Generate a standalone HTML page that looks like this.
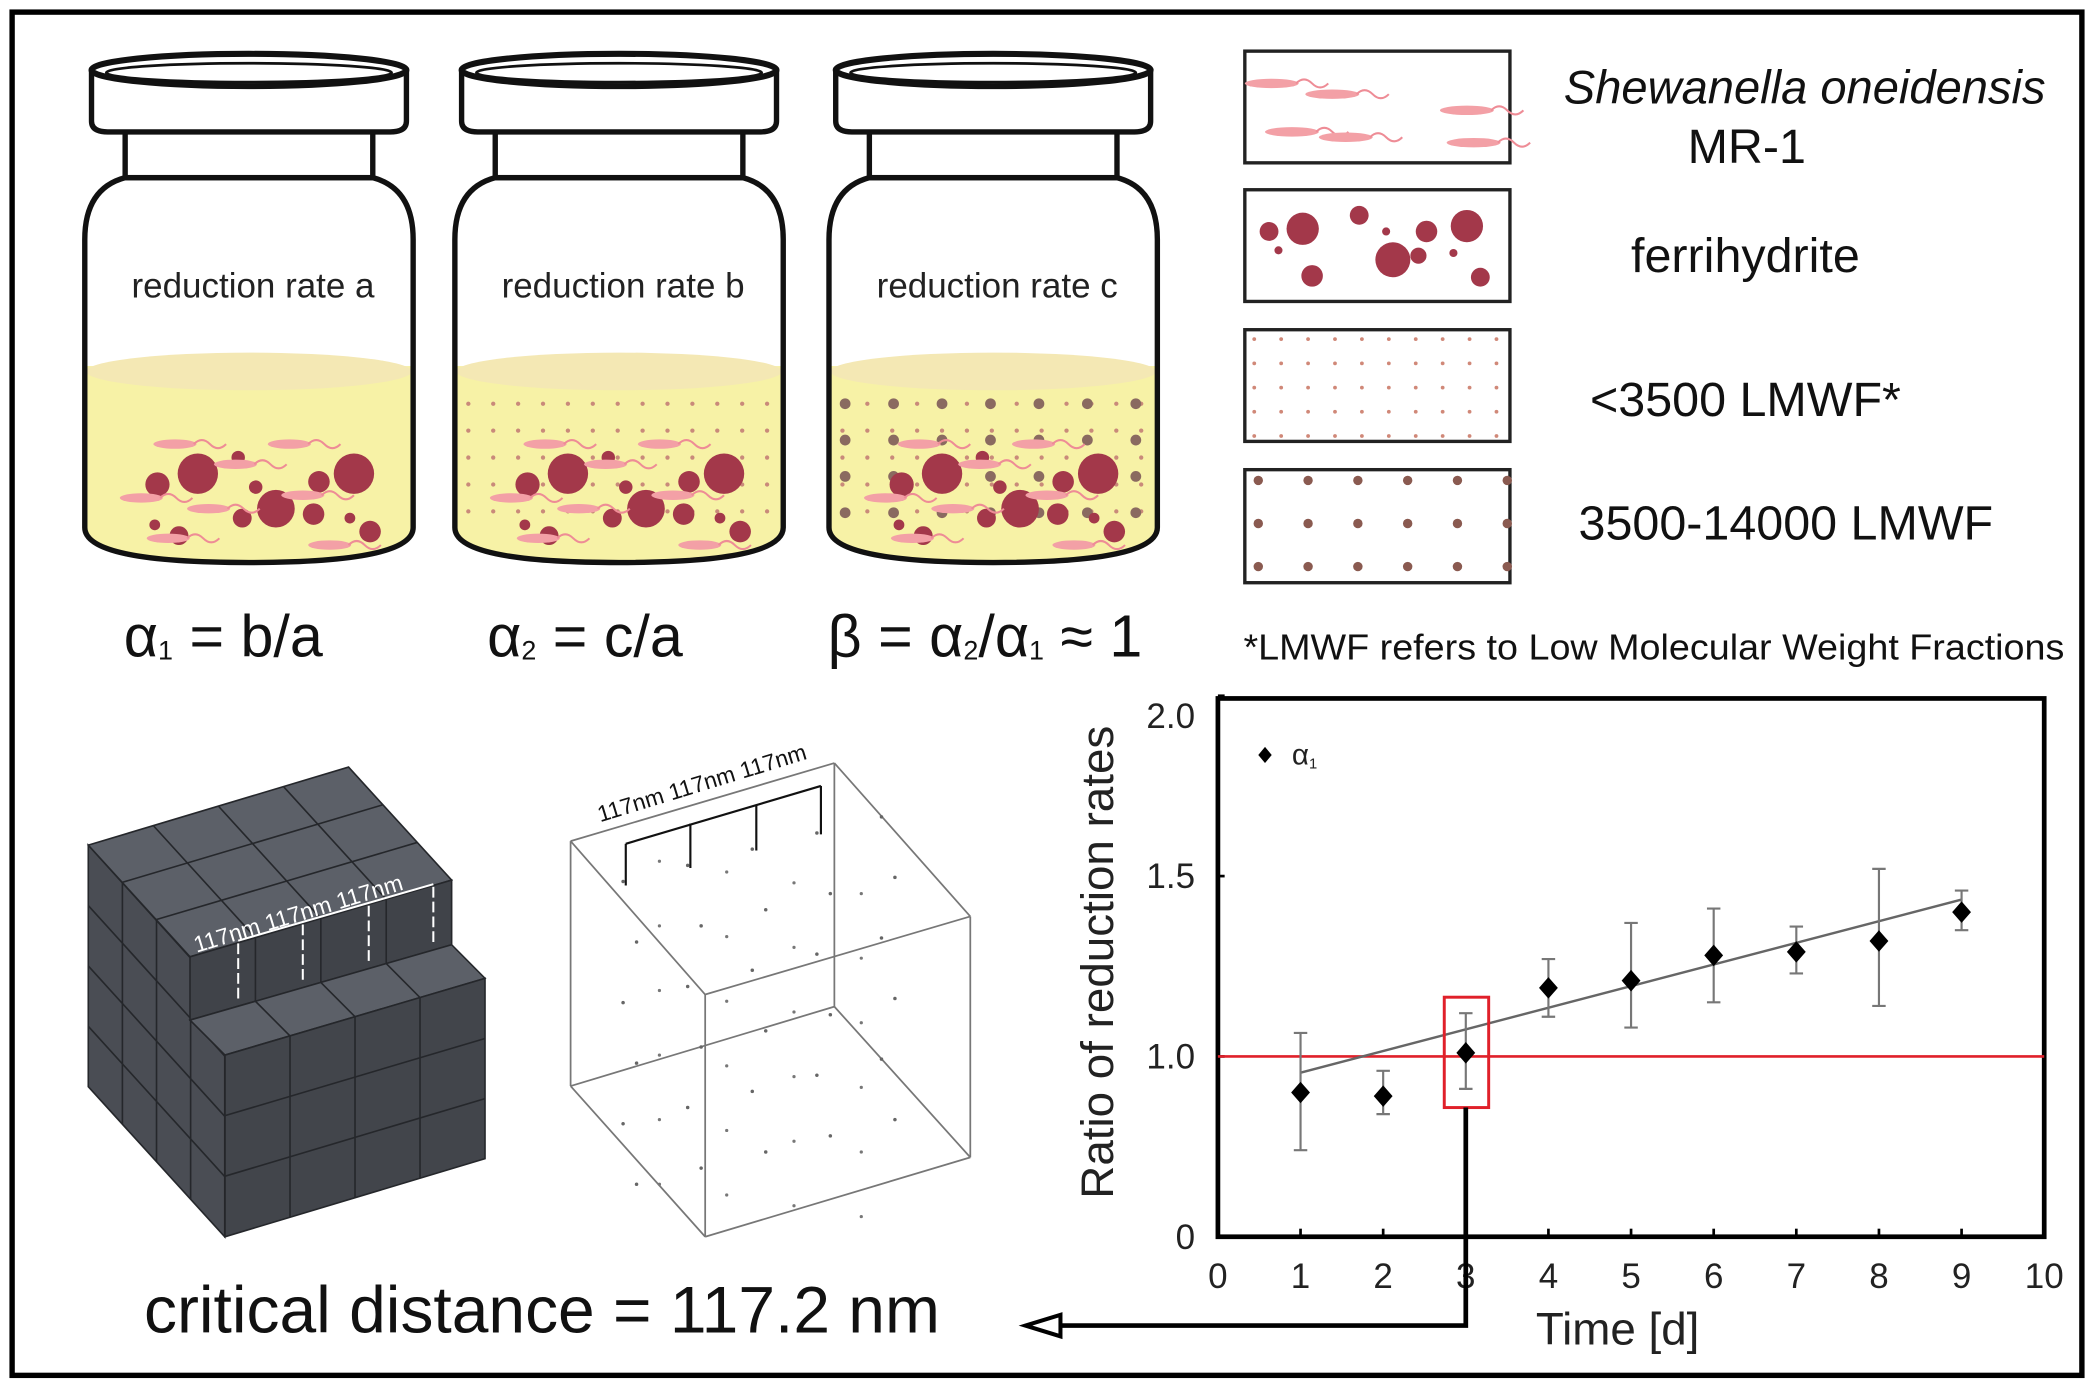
<!DOCTYPE html>
<html><head><meta charset="utf-8"><style>
html,body{margin:0;padding:0;background:#fff}
svg{display:block}
text{font-family:"Liberation Sans",sans-serif}
</style></head><body>
<svg id="fig" xmlns="http://www.w3.org/2000/svg" width="2094" height="1379" viewBox="0 0 1556 1024.7" preserveAspectRatio="none">
<rect x="9" y="9" width="1538" height="1013" fill="#fff" stroke="#000" stroke-width="4"/>
<g id="jars"></g>
<g font-size="44" fill="#111">
<text x="92" y="488">α<tspan font-size="20" dy="2">1</tspan><tspan dy="-2"> = b/a</tspan></text>
<text x="362" y="488">α<tspan font-size="20" dy="2">2</tspan><tspan dy="-2"> = c/a</tspan></text>
<text x="615" y="488">β = α<tspan font-size="20" dy="2">2</tspan><tspan dy="-2">/α</tspan><tspan font-size="20" dy="2">1</tspan><tspan dy="-2"> ≈ 1</tspan></text>
</g>
<g id="legendBoxes">
<rect x="925" y="38" width="197" height="83" fill="#fff" stroke="#222" stroke-width="2.5"/>
<rect x="925" y="141" width="197" height="83" fill="#fff" stroke="#222" stroke-width="2.5"/>
<rect x="925" y="245" width="197" height="83" fill="#fff" stroke="#222" stroke-width="2.5"/>
<rect x="925" y="349" width="197" height="84" fill="#fff" stroke="#222" stroke-width="2.5"/>
<text x="1341" y="77" font-size="35" font-style="italic" text-anchor="middle" fill="#111">Shewanella oneidensis</text>
<text x="1298" y="121" font-size="36" text-anchor="middle" fill="#111">MR-1</text>
<text x="1297" y="202" font-size="36" text-anchor="middle" fill="#111">ferrihydrite</text>
<text x="1297" y="309" font-size="36" text-anchor="middle" fill="#111">&lt;3500 LMWF*</text>
<text x="1327" y="401" font-size="36" text-anchor="middle" fill="#111">3500-14000 LMWF</text>
<text x="924" y="490" font-size="27" fill="#111" textLength="610" lengthAdjust="spacingAndGlyphs">*LMWF refers to Low Molecular Weight Fractions</text>
</g>
<g id="cube"></g>
<g id="wire"></g>
<text x="107" y="990" font-size="49" fill="#111">critical distance = 117.2 nm</text>
<g id="chart"></g>
</svg>
<script>
const NS="http://www.w3.org/2000/svg";
function mk(tag,attrs,parent,txt){const e=document.createElementNS(NS,tag);for(const k in attrs)e.setAttribute(k,attrs[k]);if(txt!==undefined)e.textContent=txt;parent.appendChild(e);return e;}

/* ---------- vials ---------- */
const jarsG=document.getElementById('jars');
const jarCenters=[185,460,738];
const jarLabels=['reduction rate a','reduction rate b','reduction rate c'];
const ferri=[[-68,360,9],[-38,352,15],[-8,340,5],[5,362,5],[52,358,8],[78,352,15],[-70,390,4],[-52,398,7],[20,378,14],[48,382,8],[75,385,4],[90,395,8],[-5,385,7]];
jarCenters.forEach((cx,i)=>{
  const g=mk('g',{},jarsG);
  
  
  const body=`M${cx-92},132 Q${cx-122},140 ${cx-122},178 L${cx-122},392 Q${cx-122},418 ${cx},418 Q${cx+122},418 ${cx+122},392 L${cx+122},178 Q${cx+122},140 ${cx+92},132 Z`;
  const cp=mk('clipPath',{id:'jc'+i},g);mk('path',{d:body},cp);
  mk('path',{d:body,fill:'#fff'},g);
  const lq=mk('g',{'clip-path':'url(#jc'+i+')'},g);
  mk('rect',{x:cx-125,y:272,width:250,height:150,fill:'#f7f2a6'},lq);
  mk('ellipse',{cx:cx,cy:276,rx:121,ry:14,fill:'#f4e8b4'},lq);
  if(i>0){for(let r=0;r<5;r++)for(let c=0;c<13;c++)mk('circle',{cx:cx-112+c*18.5,cy:300+r*20,r:1.6,fill:'#c98a7a'},lq);}
  if(i===2){for(let r=0;r<4;r++)for(let c=0;c<7;c++)mk('circle',{cx:cx-110+c*36,cy:300+r*27,r:4,fill:'#8a6a60'},lq);}
  ferri.forEach(p=>mk('circle',{cx:cx+p[0],cy:p[1],r:p[2],fill:'#a3384a'},lq));
  [[-55,330],[-10,345],[30,330],[-80,370],[-30,378],[40,368],[60,405],[-60,400]].forEach(p=>{
    mk('ellipse',{cx:cx+p[0],cy:p[1],rx:16,ry:3.5,fill:'#f3a0a6'},lq);
    mk('path',{d:`M${cx+p[0]+14},${p[1]} q6,-6 12,0 t12,0`,fill:'none',stroke:'#ee8c96','stroke-width':1.5},lq);
  });
  mk('path',{d:body,fill:'none',stroke:'#111','stroke-width':4},g);
  mk('rect',{x:cx-92,y:96,width:184,height:36,fill:'#fff',stroke:'#111','stroke-width':4},g);
  mk('path',{d:`M${cx-117},52 L${cx-117},90 Q${cx-117},98 ${cx-105},98 L${cx+105},98 Q${cx+117},98 ${cx+117},90 L${cx+117},52`,fill:'#fff',stroke:'#111','stroke-width':4},g);
  mk('ellipse',{cx:cx,cy:52,rx:117,ry:12,fill:'#fff',stroke:'#111','stroke-width':4.5},g);
  mk('ellipse',{cx:cx,cy:54,rx:106,ry:7,fill:'none',stroke:'#111','stroke-width':2},g);
  const t=mk('text',{x:cx+3,y:221,'font-size':26,'text-anchor':'middle',fill:'#222'},g,jarLabels[i]);
  
  
});

/* legend box fills */
const lb=document.getElementById('legendBoxes');
[[945,62],[990,70],[960,98],[1000,102],[1090,82],[1095,106]].forEach(p=>{mk('ellipse',{cx:p[0],cy:p[1],rx:20,ry:3.5,fill:'#f3a0a6'},lb);mk('path',{d:`M${p[0]+18},${p[1]} q6,-6 12,0 t12,0`,fill:'none',stroke:'#ee8c96','stroke-width':1.5},lb);});
[[943,172,7],[968,170,12],[1010,160,7],[1030,172,3],[1060,172,8],[1090,168,12],[1035,193,13],[975,205,8],[1054,190,6],[1080,188,3],[950,186,3],[1100,206,7]].forEach(p=>mk('circle',{cx:p[0],cy:p[1],r:p[2],fill:'#a3384a'},lb));
for(let r=0;r<5;r++)for(let c=0;c<10;c++)mk('circle',{cx:932+c*20,cy:252+r*18,r:1.4,fill:'#d08878'},lb);
for(let r=0;r<3;r++)for(let c=0;c<6;c++)mk('circle',{cx:935+c*37,cy:357+r*32,r:3.5,fill:'#8a5a50'},lb);

/* ---------- solid cube ---------- */
const cubeG=document.getElementById('cube');
function quadGrid(p,nu,nv,fill){
  mk('polygon',{points:p.map(q=>q.join(',')).join(' '),fill:fill,stroke:'#25272b','stroke-width':1.2},cubeG);
  const L=(a,b,t)=>[a[0]+(b[0]-a[0])*t,a[1]+(b[1]-a[1])*t];
  for(let i=1;i<nu;i++){const a=L(p[0],p[1],i/nu),b=L(p[3],p[2],i/nu);mk('line',{x1:a[0],y1:a[1],x2:b[0],y2:b[1],stroke:'#25272b','stroke-width':1.2},cubeG);}
  for(let j=1;j<nv;j++){const a=L(p[0],p[3],j/nv),b=L(p[1],p[2],j/nv);mk('line',{x1:a[0],y1:a[1],x2:b[0],y2:b[1],stroke:'#25272b','stroke-width':1.2},cubeG);}
}
quadGrid([[65.6,628],[167,740],[167,919],[65.6,807.5]],4,4,'#4a4d54');
quadGrid([[65.6,628],[259,570],[335.6,654],[141.2,711]],4,3,'#5c6068');
quadGrid([[141.2,711],[335.6,654],[335.6,702],[141.2,758]],4,1,'#404349');
quadGrid([[141.2,758],[335.6,702],[360.4,727],[167.2,784]],4,1,'#5c6068');
quadGrid([[167.2,784],[360.4,727],[360.4,861],[167.2,919]],4,3,'#42454b');
mk('text',{x:0,y:0,'font-size':17,fill:'#fff',transform:'translate(146,708) rotate(-17)'},cubeG,'117nm 117nm 117nm');
[[177,742,699],[225,728,685],[274,714,670],[322,700,657]].forEach(v=>mk('line',{x1:v[0],y1:v[1],x2:v[0],y2:v[2],stroke:'#fff','stroke-width':1.5,'stroke-dasharray':'8,3'},cubeG));
mk('line',{x1:177,y1:699,x2:322,y2:657,stroke:'#fff','stroke-width':1.5},cubeG);

/* ---------- wire cube ---------- */
const wg=document.getElementById('wire');
const W={a:[424,625],b:[620,567],c:[721,681],d:[524,739],e:[424,807],f:[524,919],g:[721,860],h:[620,748]};
[['a','b'],['b','c'],['c','d'],['d','a'],['a','e'],['d','f'],['c','g'],['e','f'],['f','g'],['b','h'],['e','h'],['h','g']].forEach(s=>mk('line',{x1:W[s[0]][0],y1:W[s[0]][1],x2:W[s[1]][0],y2:W[s[1]][1],stroke:'#777','stroke-width':1.3},wg));
for(let r=0;r<6;r++)for(let c=0;c<5;c++){const x=463+c*48+(r%2)*10,y=655+r*45-c*12;mk('circle',{cx:x,cy:y,r:1.3,fill:'#666'},wg);}
for(let r=0;r<6;r++)for(let c=0;c<4;c++){const x=490+c*50,y=640+r*48+c*8;mk('circle',{cx:x,cy:y,r:1.2,fill:'#777'},wg);}
mk('text',{x:0,y:0,'font-size':17,fill:'#111',transform:'translate(446,611) rotate(-17)'},wg,'117nm 117nm 117nm');
[[465,658,627],[513,645,612],[562,632,598],[610,620,584]].forEach(v=>mk('line',{x1:v[0],y1:v[1],x2:v[0],y2:v[2],stroke:'#111','stroke-width':1.6},wg));
mk('line',{x1:465,y1:627,x2:610,y2:584,stroke:'#111','stroke-width':1.6},wg);

/* ---------- chart ---------- */
const days=[1,2,3,4,5,6,7,8,9];
const ratios=[0.90,0.89,1.01,1.19,1.21,1.28,1.29,1.32,1.40];
const errLow=[0.74,0.84,0.91,1.11,1.08,1.15,1.23,1.14,1.35];
const errHigh=[1.065,0.96,1.12,1.27,1.37,1.41,1.36,1.52,1.46];
const trendX=[1,9];
const trendY=[0.955,1.435];
const xTicks=[0,1,2,3,4,5,6,7,8,9,10];
const yTicks=[0.5,1.0,1.5,2.0];
const yTickLabels=['0','1.0','1.5','2.0'];
const refValue=1.0;
const highlightDay=3;

const ch=document.getElementById('chart');
const PL=905,PR=1519,PT=519,PB=919;
const xs=v=>PL+(v-0)/(10-0)*(PR-PL);
const ys=v=>PB-(v-0.5)*268;
const frame=mk('rect',{x:PL,y:PT,width:PR-PL,height:PB-PT,fill:'none',stroke:'#000','stroke-width':3.5},ch);


xTicks.forEach(t=>{
  if(t>0&&t<10)mk('line',{x1:xs(t),y1:PB,x2:xs(t),y2:PB-6,stroke:'#000','stroke-width':2},ch);
  const tx=mk('text',{x:xs(t),y:957,'font-size':26,'text-anchor':'middle',fill:'#222'},ch,String(t));
  
  
});
yTicks.forEach((t,i)=>{
  mk('line',{x1:PL,y1:ys(t),x2:PL+5,y2:ys(t),stroke:'#000','stroke-width':2},ch);
  const ty=mk('text',{x:888,y:Math.max(ys(t),532)+9,'font-size':26,'text-anchor':'end',fill:'#222'},ch,yTickLabels[i]);
  
  
});
const yt=mk('text',{x:0,y:0,'font-size':34,'text-anchor':'middle',fill:'#222',transform:'translate(827,715) rotate(-90)'},ch,'Ratio of reduction rates');


const xt=mk('text',{x:1202,y:999,'font-size':34,'text-anchor':'middle',fill:'#222'},ch,'Time [d]');


const ref=mk('line',{x1:PL,y1:ys(refValue),x2:PR,y2:ys(refValue),stroke:'#e0202a','stroke-width':2},ch);


const tr=mk('line',{x1:xs(trendX[0]),y1:ys(trendY[0]),x2:xs(trendX[1]),y2:ys(trendY[1]),stroke:'#666','stroke-width':1.8},ch);


days.forEach((d,i)=>{
  const x=xs(d);
  const eb=mk('path',{d:`M${x},${ys(errLow[i])}V${ys(errHigh[i])}M${x-5},${ys(errLow[i])}h10M${x-5},${ys(errHigh[i])}h10`,stroke:'#777','stroke-width':1.6,fill:'none'},ch);
  
  
  const y=ys(ratios[i]);
  const pt=mk('polygon',{points:`${x},${y-8} ${x+7},${y} ${x},${y+8} ${x-7},${y}`,fill:'#000'},ch);
  
  
});
const lgD=mk('polygon',{points:'940,555 945,561 940,567 935,561',fill:'#000'},ch);


const lgT=mk('text',{x:960,y:568,'font-size':22,fill:'#222'},ch,'α');


mk('tspan',{'font-size':11,dy:3},lgT,'1');
const hx=xs(highlightDay);
const hl=mk('rect',{x:hx-16,y:741,width:33,height:82,fill:'none',stroke:'#e0202a','stroke-width':2.2},ch);


const conn=mk('path',{d:`M${hx},823 V985 H780`,fill:'none',stroke:'#000','stroke-width':3.5},ch);


mk('polygon',{points:'762,985 788,977 788,993',fill:'#fff',stroke:'#000','stroke-width':3},ch);
</script>
</body></html>
